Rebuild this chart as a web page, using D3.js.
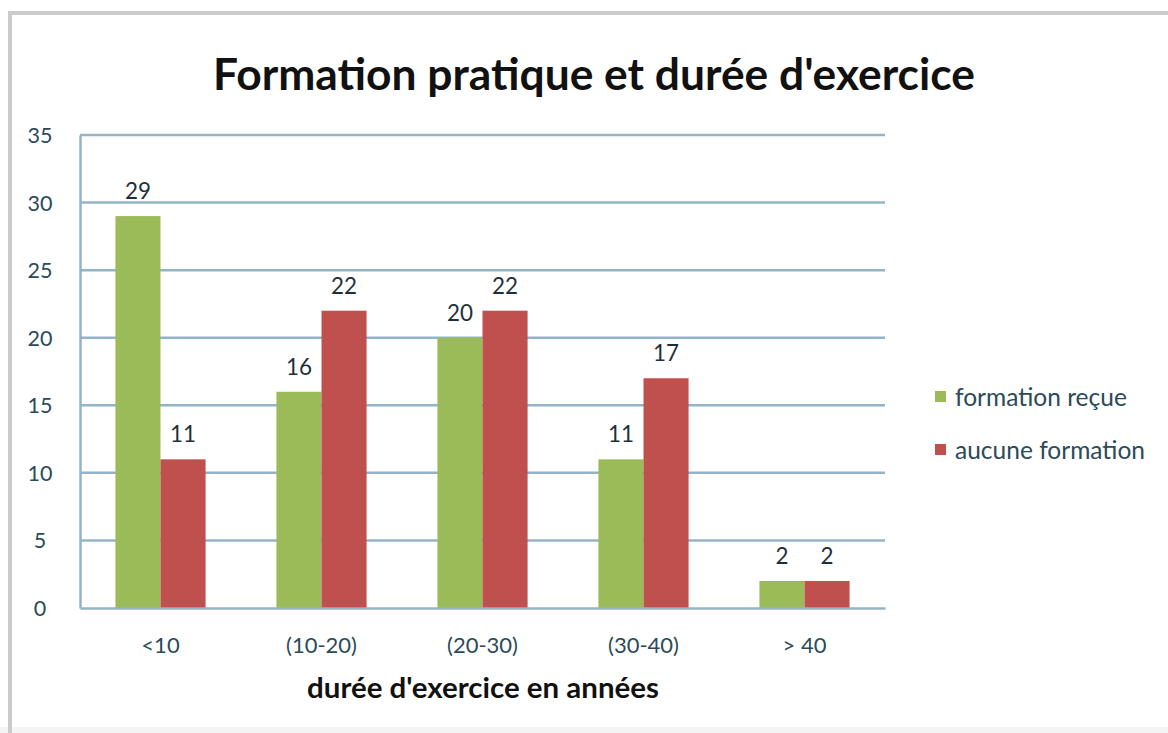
<!DOCTYPE html>
<html><head><meta charset="utf-8">
<script src="https://cdn.jsdelivr.net/npm/d3@7"></script>
<style>body{margin:0;background:#fff}svg{display:block}</style>
</head><body>
<svg id="c" width="1168" height="733"></svg>
<script>
const categories = ["<10", "(10-20)", "(20-30)", "(30-40)", "> 40"];
const seriesNames = ["formation reçue", "aucune formation"];
const formationRecue = [29, 16, 20, 11, 2];
const aucuneFormation = [11, 22, 22, 17, 2];
const yTicks = [0, 5, 10, 15, 20, 25, 30, 35];
const colors = ["#9BBB59", "#C0504D"];
const titleText = "Formation pratique et durée d'exercice";
const xTitle = "durée d'exercice en années";

const svg = d3.select("#c");
const font = "Lato, 'Open Sans', sans-serif";

// measure helper: font size so that sample text reaches target width
function fitSize(text, base, target, weight) {
  const t = svg.append("text").attr("font-family",font).attr("font-size",base)
    .attr("font-weight",weight||"normal").text(text);
  const w = t.node().getComputedTextLength();
  t.remove();
  return base*target/w;
}

// frame
svg.append("rect").attr("x",0).attr("y",0).attr("width",1168).attr("height",733).attr("fill","#fff");
svg.append("rect").attr("x",0).attr("y",727).attr("width",1168).attr("height",6).attr("fill","#f4f4f4");
svg.append("rect").attr("x",8).attr("y",11).attr("width",1160).attr("height",4).attr("fill","#c9cbcc");
svg.append("rect").attr("x",8).attr("y",11).attr("width",4).attr("height",722).attr("fill","#c9cbcc");

const x0 = d3.scaleBand().domain(categories).range([80, 885]).paddingInner(0.44).paddingOuter(0.22);
const x1 = d3.scaleBand().domain(seriesNames).range([0, x0.bandwidth()]);
const y = d3.scaleLinear().domain([0, 35]).range([608, 135]);

const textColor = "#2b4a5a";
const gridColor = "#93b3c8";
const yTickSize = fitSize("35", 20, 25);
const dataSize = fitSize("29", 20, 26);
const xLabSize = Math.min(fitSize("(10-20)", 20, 74), 22);
const legSize = fitSize("formation reçue", 20, 172);

// gridlines
svg.append("g").selectAll("line").data(yTicks.filter(d=>d>0)).join("line")
  .attr("x1",80).attr("x2",885).attr("y1",d=>y(d)).attr("y2",d=>y(d))
  .attr("stroke",gridColor).attr("stroke-width",2.5);

// y axis
const yAxis = svg.append("g").attr("transform","translate(80,0)")
  .call(d3.axisLeft(y).tickValues(yTicks).tickSize(0).tickPadding(28));
yAxis.select(".domain").attr("stroke",gridColor).attr("stroke-width",2.5);
yAxis.selectAll(".tick text").attr("font-family",font).attr("font-size",yTickSize).attr("fill",textColor)
  .attr("text-anchor","middle").attr("x",-40).attr("dy","0.35em");

const data = categories.map((c,i)=>({cat:c, vals:[formationRecue[i], aucuneFormation[i]]}));

const groups = svg.append("g").selectAll("g").data(data).join("g")
  .attr("transform",d=>`translate(${x0(d.cat)},0)`);
groups.selectAll("rect").data(d=>d.vals.map((v,j)=>({v, s:seriesNames[j], j}))).join("rect")
  .attr("x",d=>x1(d.s)).attr("width",x1.bandwidth())
  .attr("y",d=>y(d.v)).attr("height",d=>y(0)-y(d.v))
  .attr("fill",d=>colors[d.j]);
groups.selectAll("text").data(d=>d.vals.map((v,j)=>({v, s:seriesNames[j], j}))).join("text")
  .attr("x",d=>x1(d.s)+x1.bandwidth()/2).attr("y",d=>y(d.v)-17)
  .attr("text-anchor","middle").attr("font-family",font).attr("font-size",dataSize)
  .attr("fill","#1e2f3a").text(d=>d.v);

// x axis
const xAxis = svg.append("g").attr("transform","translate(0,608)")
  .call(d3.axisBottom(x0).tickSize(0).tickPadding(29));
xAxis.select(".domain").attr("stroke",gridColor).attr("stroke-width",2.5);
xAxis.selectAll(".tick text").attr("font-family",font).attr("font-size",xLabSize).attr("fill",textColor);

// title
const t = svg.append("text").attr("x",594).attr("y",90).attr("text-anchor","middle")
  .attr("font-family",font).attr("font-weight","bold").attr("font-size",36).attr("fill","#111")
  .text(titleText);
const tw = t.node().getComputedTextLength();
t.attr("font-size", 36*762/tw);

const xt = svg.append("text").attr("x",483).attr("y",698).attr("text-anchor","middle")
  .attr("font-family",font).attr("font-weight","bold").attr("font-size",21).attr("fill","#111")
  .text(xTitle);
const xw = xt.node().getComputedTextLength();
xt.attr("font-size", 21*352/xw);

// legend
const legend = svg.append("g").selectAll("g").data(seriesNames).join("g")
  .attr("transform",(d,i)=>`translate(935,${397 + i*53})`);
legend.append("rect").attr("x",0).attr("y",-6).attr("width",11).attr("height",11).attr("fill",(d,i)=>colors[i]);
legend.append("text").attr("x",20).attr("y",0).attr("dy","0.35em")
  .attr("font-family",font).attr("font-size",legSize).attr("fill",textColor).text(d=>d);
</script>
</body></html>
